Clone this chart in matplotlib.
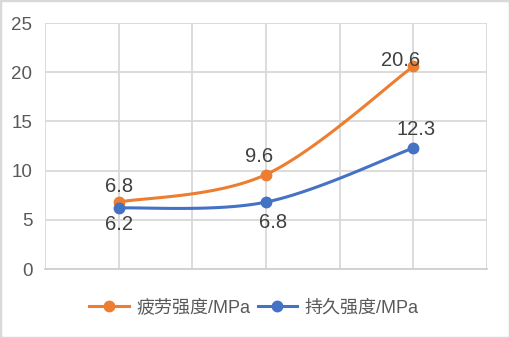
import numpy as np
import matplotlib
matplotlib.use("Agg")
import matplotlib.pyplot as plt
from matplotlib.patches import Rectangle

plt.rcParams['font.family'] = ['Liberation Sans', 'Noto Sans CJK SC', 'DejaVu Sans']

# data: three test groups, two strength measures
categories = ['', '', '']
fatigue = [6.8, 9.6, 20.6]
endurance = [6.2, 6.8, 12.3]
series_names = ['疲劳强度/MPa', '持久强度/MPa']
yticks = [0, 5, 10, 15, 20, 25]

ORANGE = '#ED7D31'
BLUE = '#4472C4'
GRID = '#D9D9D9'
TEXT = '#404040'


def smooth(xs, ys, n=40):
    # Catmull-Rom style cubic bezier through the points (like a spreadsheet's smoothed line)
    xs = np.asarray(xs, float)
    ys = np.asarray(ys, float)
    px = np.concatenate([[xs[0]], xs, [xs[-1]]])
    py = np.concatenate([[ys[0]], ys, [ys[-1]]])
    outx, outy = [], []
    t = np.linspace(0, 1, n)
    for i in range(1, len(px) - 2):
        p0 = np.array([px[i], py[i]])
        p3 = np.array([px[i + 1], py[i + 1]])
        c1 = p0 + (np.array([px[i + 1], py[i + 1]]) - np.array([px[i - 1], py[i - 1]])) / 6
        c2 = p3 - (np.array([px[i + 2], py[i + 2]]) - np.array([px[i], py[i]])) / 6
        b = (np.outer((1 - t) ** 3, p0) + np.outer(3 * (1 - t) ** 2 * t, c1)
             + np.outer(3 * (1 - t) * t ** 2, c2) + np.outer(t ** 3, p3))
        outx.extend(b[:, 0])
        outy.extend(b[:, 1])
    return np.array(outx), np.array(outy)


fig = plt.figure(figsize=(5.1, 3.38), dpi=100)
ax = fig.add_axes([45 / 510, 69 / 338, 442 / 510, 246 / 338])

x = np.arange(len(categories)) + 0.5

for vals, col, name in [(fatigue, ORANGE, series_names[0]), (endurance, BLUE, series_names[1])]:
    sx, sy = smooth(x, vals)
    ax.plot(sx, sy, color=col, lw=2.2, solid_capstyle='round', zorder=3)
    ax.plot(x, vals, 'o', color=col, ms=7.5, zorder=4)
    # legend proxy
    ax.plot([], [], '-o', color=col, lw=2.2, ms=7.5, label=name)

# data labels (offsets in points)
fat_off = [(0, 11), (-5, 13), (-9, 4)]
end_off = [(0, -12), (5, -15), (2, 13)]
for xi, v, off in zip(x, fatigue, fat_off):
    ax.annotate(f'{v:g}', (xi, v), xytext=off, textcoords='offset points',
                ha='center', va='center', fontsize=14.5, color=TEXT, zorder=5)
for xi, v, off in zip(x, endurance, end_off):
    ax.annotate(f'{v:g}', (xi, v), xytext=off, textcoords='offset points',
                ha='center', va='center', fontsize=14.5, color=TEXT, zorder=5)

ax.set_xlim(0, 3)
ax.set_ylim(0, 25)
ax.set_yticks(yticks)
ax.set_xticks(np.arange(0, 3.01, 0.5))
ax.set_xticklabels([])
ax.tick_params(axis='both', length=0, labelsize=13.5, labelcolor='#595959', pad=9)
ax.grid(True, color=GRID, lw=1.3)
ax.set_axisbelow(True)
for s in ax.spines.values():
    s.set_visible(False)
ax.spines['bottom'].set_visible(True)
ax.spines['bottom'].set_color('#D0D0D0')
ax.spines['bottom'].set_linewidth(1.3)

ax.legend(loc='center', bbox_to_anchor=(254 / 510, 30 / 338), bbox_transform=fig.transFigure,
          ncol=2, frameon=False, fontsize=13, handlelength=2.2, columnspacing=0.4,
          handletextpad=0.4, labelcolor='#595959')

fig.add_artist(Rectangle((0, 0), 1, 1, transform=fig.transFigure, fill=False,
                         edgecolor='#D9D9D9', lw=2.5))

fig.savefig('out.png', dpi=100)
